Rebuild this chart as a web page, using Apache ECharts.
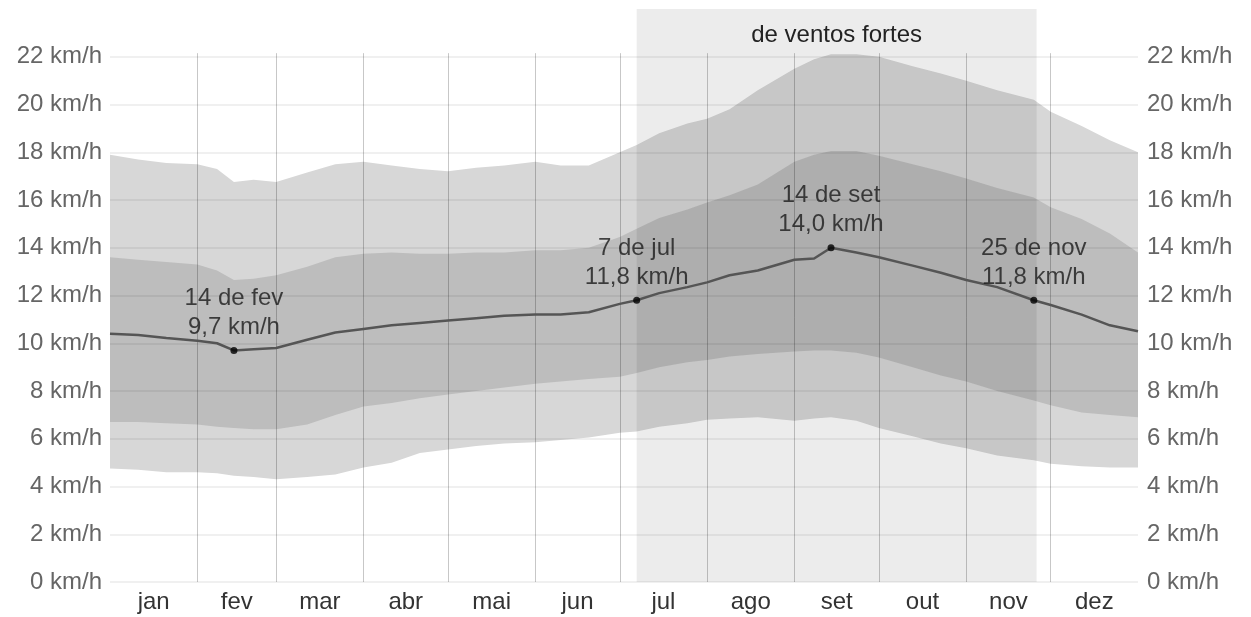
<!DOCTYPE html>
<html>
<head>
<meta charset="utf-8">
<script src="https://cdn.jsdelivr.net/npm/echarts@6/dist/echarts.min.js"></script>
<style>
html,body{margin:0;padding:0;background:#fff;}
#chart{width:1251px;height:617px;}
</style>
</head>
<body>
<div id="chart"></div>
<script>
// Day of year (0 = 1 jan)
const days = [0,10,20,31,38,44,51,59,70,80,90,100,110,120,130,140,151,160,170,181,187,195,205,212,220,230,243,250,256,265,273,285,295,304,315,328,334,345,355,365];
// Mean wind speed (km/h)
const meanSpeed = [10.4,10.35,10.22,10.1,10.0,9.7,9.75,9.8,10.15,10.45,10.6,10.75,10.85,10.95,11.05,11.15,11.2,11.2,11.3,11.65,11.8,12.1,12.35,12.55,12.85,13.05,13.5,13.55,14.0,13.8,13.6,13.25,12.95,12.65,12.35,11.8,11.6,11.2,10.75,10.5];
// Percentile bands
const p10 = [4.75,4.7,4.6,4.6,4.55,4.45,4.4,4.3,4.4,4.5,4.8,5.0,5.4,5.55,5.7,5.8,5.85,5.95,6.05,6.25,6.3,6.5,6.65,6.8,6.85,6.9,6.75,6.85,6.9,6.75,6.45,6.1,5.8,5.6,5.3,5.1,4.95,4.85,4.8,4.8];
const p25 = [6.7,6.7,6.65,6.6,6.5,6.45,6.4,6.4,6.6,7.0,7.35,7.5,7.7,7.85,8.0,8.15,8.3,8.4,8.5,8.6,8.75,9.0,9.2,9.3,9.45,9.55,9.65,9.7,9.7,9.6,9.4,9.0,8.65,8.4,8.0,7.6,7.4,7.1,7.0,6.9];
const p75 = [13.6,13.5,13.4,13.3,13.05,12.65,12.7,12.85,13.2,13.6,13.75,13.8,13.75,13.75,13.8,13.8,13.9,13.9,14.0,14.45,14.8,15.25,15.6,15.9,16.2,16.65,17.6,17.9,18.05,18.05,17.85,17.5,17.2,16.9,16.5,16.1,15.7,15.2,14.6,13.8];
const p90 = [17.9,17.7,17.55,17.5,17.3,16.75,16.85,16.75,17.15,17.5,17.6,17.45,17.3,17.2,17.35,17.45,17.6,17.45,17.45,18.0,18.3,18.8,19.2,19.4,19.8,20.6,21.5,21.9,22.1,22.1,22.0,21.6,21.3,21.0,20.6,20.2,19.7,19.1,18.5,18.0];

const monthNames = ['jan','fev','mar','abr','mai','jun','jul','ago','set','out','nov','dez'];
const monthStarts = [0,31,59,90,120,151,181,212,243,273,304,334,365];
const yTicks = [0,2,4,6,8,10,12,14,16,18,20,22];

const highlightDays = [44,187,256,328];
const highlightValues = [9.7,11.8,14.0,11.8];
const highlightLabels = ['14 de fev','7 de jul','14 de set','25 de nov'];

const strongWindRange = [187,329];
const strongWindLabel = 'de ventos fortes';

const FONT = 'Liberation Sans, Arial, sans-serif';

const pair = (arr) => days.map((d,i)=>[d, arr[i]]);
const monthMids = monthNames.map((m,i)=>(monthStarts[i]+monthStarts[i+1])/2);
const fmtKmh = v => v.toFixed(1).replace('.', ',') + ' km/h';

const chart = echarts.init(document.getElementById('chart'), null, {renderer:'canvas'});

// Layered filled areas (from axis bottom), painted in order: p90, p75, p25, p10
const band = (name, arr, color) => ({
  name, type:'line', data:pair(arr), symbol:'none', silent:true, z:1,
  lineStyle:{width:0, opacity:0},
  areaStyle:{color, opacity:1, origin:'start'}
});

const monthLines = monthStarts.slice(1,-1).map(d => [
  {coord:[d, 22.15]}, {coord:[d, 0]}
]);

chart.setOption({
  animation:false,
  backgroundColor:'#ffffff',
  grid:{left:110, right:113, top:9, bottom:35, containLabel:false},
  xAxis:{
    type:'value', min:0, max:365, z:3,
    axisLine:{show:false}, axisTick:{show:false}, splitLine:{show:false},
    axisLabel:{
      customValues: monthMids,
      formatter: v => { const i = monthMids.indexOf(v); return i>=0 ? monthNames[i] : ''; },
      color:'#333', fontSize:24, fontFamily:FONT, margin:8
    }
  },
  yAxis:[{
    type:'value', min:0, max:24, interval:2, z:3,
    axisLine:{show:false},
    axisTick:{show:false, customValues:yTicks},
    axisLabel:{customValues:yTicks, formatter: v => v + ' km/h', color:'#666', fontSize:24, fontFamily:FONT, margin:8},
    splitLine:{show:true, lineStyle:{color:'rgba(0,0,0,0.06)', width:2}}
  },{
    type:'value', min:0, max:24, interval:2, position:'right',
    axisLine:{show:false},
    axisTick:{show:false, customValues:yTicks},
    axisLabel:{customValues:yTicks, formatter: v => v + ' km/h', color:'#666', fontSize:24, fontFamily:FONT, margin:9},
    splitLine:{show:false}
  }],
  series:[
    band('p90', p90, '#d7d7d7'),
    band('p75', p75, '#bdbdbd'),
    band('p25', p25, '#d7d7d7'),
    band('p10', p10, '#ffffff'),
    {
      name:'strong', type:'line', data:pair(meanSpeed), symbol:'none', silent:true, z:2,
      lineStyle:{opacity:0},
      markArea:{
        silent:true, z:2,
        itemStyle:{color:'rgba(0,0,0,0.075)'},
        label:{show:true, position:'insideTop', distance:14, color:'#222', fontSize:24, fontFamily:FONT},
        data:[[{xAxis:strongWindRange[0], name:strongWindLabel},{xAxis:strongWindRange[1]}]]
      }
    },
    {
      name:'months', type:'line', data:pair(meanSpeed), symbol:'none', silent:true, z:3,
      lineStyle:{opacity:0},
      markLine:{
        silent:true, z:3, symbol:['none','none'], label:{show:false},
        lineStyle:{color:'rgba(0,0,0,0.22)', width:1, type:'solid'},
        data: monthLines
      }
    },
    {
      name:'mean', type:'line', data:pair(meanSpeed), symbol:'none', z:4,
      lineStyle:{color:'#555', width:2.5}
    },
    {
      name:'highlights', type:'scatter', z:5, symbolSize:7,
      itemStyle:{color:'#000'},
      data: highlightDays.map((d,i)=>({value:[d, highlightValues[i]], name:highlightLabels[i]})),
      label:{
        show:true, position:'top', distance:5,
        formatter: p => p.name + '\n' + fmtKmh(p.value[1]),
        color:'#1a1a1a', fontSize:24, lineHeight:29, fontFamily:FONT, align:'center',
        textBorderWidth:0
      }
    }
  ]
});
</script>
</body>
</html>
